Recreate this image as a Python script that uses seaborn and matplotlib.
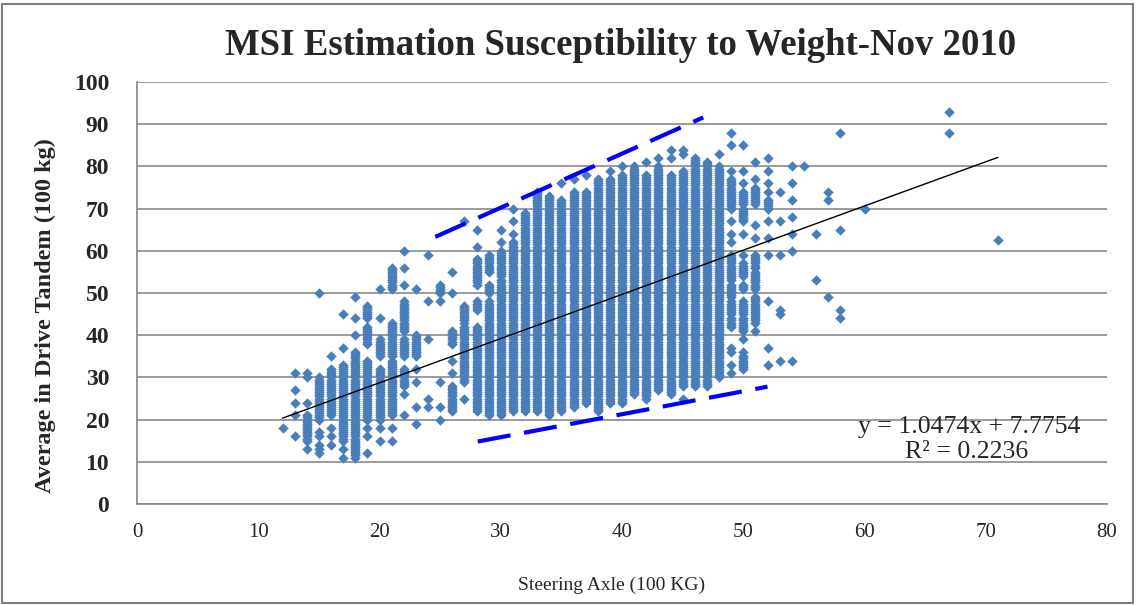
import numpy as np
import pandas as pd
import seaborn as sns
import matplotlib.pyplot as plt
from matplotlib.patches import Rectangle

# dense vertical runs of points (steering axle value, lowest and highest drive tandem value)
run_x = [14, 15, 16, 17, 18, 19, 19, 19, 20, 20, 21, 21, 21, 22, 22, 22, 23, 25,
         26, 26, 27, 27, 28, 28, 28, 29, 29, 29, 30, 30, 31, 32, 33, 34, 35, 36,
         37, 38, 39, 40, 41, 42, 43, 44, 45, 46, 47, 48, 49, 49, 49, 49, 49,
         50, 50, 50, 50, 50, 50, 50, 51, 51, 51, 51, 52]
run_lo = [15, 20, 21, 15, 11, 44, 38, 20, 35, 20, 51, 35, 21, 41, 35, 28, 35, 50,
          38, 22, 43, 29, 52, 46, 22, 55, 50, 21, 54, 21, 22, 22, 22, 21, 22, 23,
          24, 22, 24, 24, 26, 25, 27, 26, 28, 28, 28, 30, 70, 53, 49, 45, 42,
          71, 67, 54, 51, 45, 41, 32, 71, 56, 51, 43, 70]
run_hi = [21, 30, 32, 33, 36, 47, 42, 34, 39, 32, 56, 43, 34, 48, 39, 32, 40, 52,
          41, 28, 47, 42, 58, 48, 42, 59, 52, 48, 60, 53, 62, 69, 74, 73, 72, 74,
          74, 77, 77, 78, 80, 78, 80, 78, 79, 82, 81, 80, 77, 59, 52, 48, 44,
          74, 70, 57, 52, 48, 44, 35, 75, 59, 55, 49, 72]

# scattered single points
pt_x = [12,
        13, 13, 13, 13, 13,
        14, 14, 14, 14,
        15, 15, 15, 15, 15, 15,
        16, 16, 16, 16,
        17, 17, 17, 17,
        18, 18, 18,
        19, 19, 19,
        20, 20, 20, 20,
        21, 21,
        22, 22, 22, 22, 22,
        23, 23, 23, 23, 23,
        24, 24, 24, 24, 24,
        25, 25, 25, 25,
        26, 26, 26, 26,
        27, 27,
        28, 28,
        30, 30,
        31, 31, 31,
        35, 36, 37, 39, 40, 42, 43, 44, 44, 45, 45, 45, 48,
        49, 49, 49, 49, 49, 49, 49, 49, 49, 49,
        50, 50, 50, 50, 50, 50, 50,
        51, 51, 51, 51, 51,
        52, 52, 52, 52, 52, 52, 52, 52, 52, 52,
        53, 53, 53, 53, 53, 53,
        54, 54, 54, 54, 54, 54, 54,
        55, 56, 56, 57, 57, 57, 58, 58, 58, 58, 60, 67, 67, 71]
pt_y = [18,
        31, 27, 24, 21, 16,
        31, 30, 24, 13,
        50, 17, 16, 14, 13, 12,
        35, 18, 16, 14,
        45, 37, 13, 11,
        49, 44, 40,
        18, 16, 12,
        51, 44, 18, 15,
        18, 15,
        60, 56, 52, 26, 21,
        51, 32, 29, 23, 19,
        59, 48, 39, 25, 23,
        48, 29, 23, 20,
        55, 50, 34, 31,
        67, 25,
        65, 61,
        65, 62,
        70, 67, 64,
        76, 77, 78, 79, 80, 81, 82, 84, 82, 84, 83, 25, 83,
        88, 85, 79, 67, 64, 62, 37, 36, 33, 31,
        85, 79, 76, 64, 59, 39, 36,
        81, 77, 66, 63, 41,
        82, 79, 76, 74, 67, 63, 59, 48, 37, 33,
        74, 67, 59, 46, 45, 34,
        80, 76, 72, 68, 64, 60, 34,
        80, 64, 53, 74, 72, 49, 88, 65, 46, 44, 70, 93, 88, 62.5]

# Excel linear trendline
trend_slope = 1.0474
trend_intercept = 7.7754
trend_x = [12, 71]

# hand-drawn blue dashed envelope
upper_x = [24.6, 46.7]
upper_y = [63.3, 91.6]
lower_x = [28.1, 52.0]
lower_y = [14.8, 27.8]

# weights are recorded in half units, so a dense run holds every half step
xs, ys = list(pt_x), list(pt_y)
for x, lo, hi in zip(run_x, run_lo, run_hi):
    for y in np.arange(lo, hi + 0.5, 0.5):
        xs.append(x)
        ys.append(y)
df = pd.DataFrame({'steer': xs, 'drive': ys})

sns.set_theme(style='white')
plt.rcParams['font.family'] = ['Liberation Serif', 'DejaVu Serif']

fig = plt.figure(figsize=(11.37, 6.05), dpi=100)
ax = fig.add_axes([137 / 1137, 1 - 504 / 605, 970 / 1137, 422 / 605])

ax.yaxis.grid(True, color='#8a8a8a', lw=1.2)
ax.set_axisbelow(True)

sns.scatterplot(data=df, x='steer', y='drive', marker='D', s=28,
                color='#4A7EBB', linewidth=0, ax=ax, zorder=3)

ty = [trend_slope * x + trend_intercept for x in trend_x]
ax.plot(trend_x, ty, color='black', lw=1, zorder=4)

ax.plot(upper_x, upper_y, color='#0000FF', lw=3, dashes=(8, 3.3),
        dash_capstyle='butt', zorder=5)
ax.plot(lower_x, lower_y, color='#0000FF', lw=3, dashes=(8, 3.3),
        dash_capstyle='butt', zorder=5)

ax.set_xlim(0, 80)
ax.set_ylim(0, 100)
ax.set_xticks(range(0, 81, 10))
ax.set_yticks(range(0, 101, 10))
ax.set_xlabel('')
ax.set_ylabel('')
for s in ['top', 'right']:
    ax.spines[s].set_visible(False)
for s in ['left', 'bottom']:
    ax.spines[s].set_color('#868686')
    ax.spines[s].set_linewidth(1.2)
ax.tick_params(axis='both', direction='out', length=6, width=1, color='#868686')
ax.tick_params(axis='x', labelsize=15, pad=8)
ax.tick_params(axis='y', labelsize=17, pad=14)
for lab in ax.get_yticklabels():
    lab.set_fontweight('bold')

ax.text(68.6, 18.2, 'y = 1.0474x + 7.7754', fontsize=18.5, ha='center', va='center')
ax.text(68.4, 12.3, 'R² = 0.2236', fontsize=18.5, ha='center', va='center')

fig.text(0.546, 0.925, 'MSI Estimation Susceptibility to Weight-Nov 2010',
         fontsize=26.5, fontweight='bold', ha='center', va='center')
fig.text(0.04, 0.478, 'Average in Drive Tandem (100 kg)', fontsize=17.5,
         fontweight='bold', rotation=90, ha='center', va='center')
fig.text(0.538, 0.033, 'Steering Axle (100 KG)', fontsize=14,
         ha='center', va='center')

fig.patches.append(Rectangle((2 / 1137, 2 / 605), 1131 / 1137, 599 / 605,
                             transform=fig.transFigure, fill=False,
                             edgecolor='#7f7f7f', lw=1.5))

fig.savefig('out.png', dpi=100)
